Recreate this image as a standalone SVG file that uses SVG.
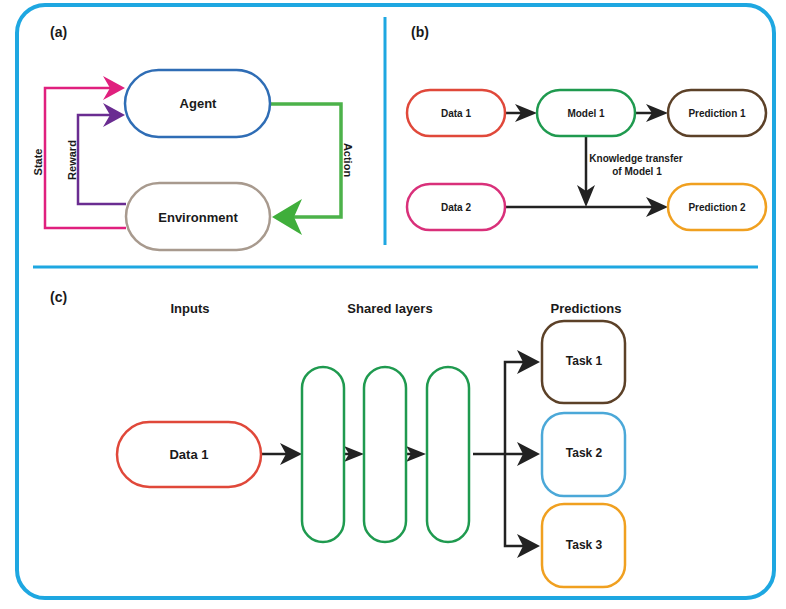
<svg xmlns="http://www.w3.org/2000/svg" width="786" height="609" viewBox="0 0 786 609">
<style>
text{font-family:"Liberation Sans",Arial,sans-serif;font-weight:bold;fill:#1a1a1a}
.frame{fill:none;stroke:#1ea7e1;stroke-width:4}
.div{stroke:#1ea7e1;stroke-width:3;fill:none}
.node{fill:#fff;stroke-width:2.5}
.ln{fill:none;stroke:#222;stroke-width:2.5}
.hd{fill:#222}
.mid{text-anchor:middle;dominant-baseline:central}
</style>
<rect class="frame" x="17" y="5" width="757" height="593" rx="28"/>
<line class="div" x1="385" y1="17" x2="385" y2="245"/>
<line class="div" x1="33" y1="267" x2="758" y2="267"/>

<text x="50" y="37" font-size="14">(a)</text>
<text x="411" y="37" font-size="14">(b)</text>
<text x="50" y="302" font-size="14">(c)</text>

<g id="connectors">
  <!-- panel a -->
  <path d="M126,228 H45 V88 H112" fill="none" stroke="#e0207e" stroke-width="2.5"/>
  <polygon points="125,88 103,76 110,88 103,100" fill="#e0207e"/>
  <path d="M126,204 H78 V115 H112" fill="none" stroke="#6a2c91" stroke-width="2.5"/>
  <polygon points="125,115 103,103 110,115 103,127" fill="#6a2c91"/>
  <path d="M270,104 H341 V217 H292" fill="none" stroke="#4cb24a" stroke-width="3.5"/>
  <polygon points="272,217 302,199 294,217 302,235" fill="#3fae3b"/>
  <!-- panel b -->
  <line class="ln" x1="505" y1="113" x2="522" y2="113"/>
  <polygon class="hd" points="537,113 515,104 521,113 515,122"/>
  <line class="ln" x1="635" y1="113" x2="652" y2="113"/>
  <polygon class="hd" points="668,113 646,104 652,113 646,122"/>
  <line class="ln" x1="586" y1="136" x2="586" y2="192"/>
  <polygon class="hd" points="586,207 577,185 586,191 595,185"/>
  <line class="ln" x1="505" y1="207" x2="652" y2="207"/>
  <polygon class="hd" points="668,207 646,197 652,207 646,217"/>
  <!-- panel c -->
  <line class="ln" x1="261" y1="454" x2="287" y2="454"/>
  <polygon class="hd" points="302,454 280,443 286,454 280,465"/>
  <line class="ln" x1="344" y1="454" x2="350" y2="454"/>
  <polygon class="hd" points="364,454 344,446 349,454 344,462"/>
  <line class="ln" x1="406" y1="454" x2="412" y2="454"/>
  <polygon class="hd" points="426,454 406,446 411,454 406,462"/>
  <line class="ln" x1="473" y1="454" x2="524" y2="454"/>
  <path class="ln" d="M524,362 H505 V546 H524"/>
  <polygon class="hd" points="540,362 517,350 523,362 517,374"/>
  <polygon class="hd" points="540,454 517,442 523,454 517,466"/>
  <polygon class="hd" points="540,546 517,534 523,546 517,558"/>
</g>

<text class="mid" font-size="11" transform="translate(38,162) rotate(-90)">State</text>
<text class="mid" font-size="11" transform="translate(72,160) rotate(-90)">Reward</text>
<text class="mid" font-size="11" transform="translate(348,160) rotate(90)">Action</text>
<text x="636" y="162" font-size="10" text-anchor="middle">Knowledge transfer</text>
<text x="637" y="175" font-size="10" text-anchor="middle">of Model 1</text>

<g id="agent"><rect class="node" x="125" y="70" width="145" height="67" rx="33.5" stroke="#2f6db5"/><text class="mid" x="198" y="103" font-size="13">Agent</text></g>
<g id="environment"><rect class="node" x="126" y="183" width="144" height="67" rx="33.5" stroke="#a89a8e"/><text class="mid" x="198" y="217" font-size="13">Environment</text></g>

<g id="b-data1"><rect class="node" x="407" y="90" width="98" height="46" rx="23" stroke="#e0483a"/><text class="mid" x="456" y="113" font-size="10">Data 1</text></g>
<g id="b-model1"><rect class="node" x="537" y="90" width="98" height="46" rx="23" stroke="#1f9a4f"/><text class="mid" x="586" y="113" font-size="10">Model 1</text></g>
<g id="b-pred1"><rect class="node" x="668" y="90" width="98" height="46" rx="23" stroke="#5c4128"/><text class="mid" x="717" y="113" font-size="10">Prediction 1</text></g>
<g id="b-data2"><rect class="node" x="407" y="184" width="98" height="46" rx="23" stroke="#d9307a"/><text class="mid" x="456" y="207" font-size="10">Data 2</text></g>
<g id="b-pred2"><rect class="node" x="668" y="184" width="98" height="46" rx="23" stroke="#f0a020"/><text class="mid" x="717" y="207" font-size="10">Prediction 2</text></g>

<text class="mid" x="190" y="308" font-size="13">Inputs</text>
<text class="mid" x="390" y="308" font-size="13">Shared layers</text>
<text class="mid" x="586" y="308" font-size="13">Predictions</text>

<g id="c-data1"><rect class="node" x="117" y="422" width="144" height="65" rx="32.5" stroke="#e0483a"/><text class="mid" x="189" y="454" font-size="13">Data 1</text></g>
<g id="layer1"><rect class="node" x="302" y="367" width="42" height="175" rx="21" stroke="#1f9a4f"/></g>
<g id="layer2"><rect class="node" x="364" y="367" width="42" height="175" rx="21" stroke="#1f9a4f"/></g>
<g id="layer3"><rect class="node" x="427" y="367" width="42" height="175" rx="21" stroke="#1f9a4f"/></g>
<g id="task1"><rect class="node" x="542" y="321" width="83" height="82" rx="22" stroke="#5c4128"/><text class="mid" x="584" y="361" font-size="12">Task 1</text></g>
<g id="task2"><rect class="node" x="542" y="413" width="83" height="83" rx="22" stroke="#4ba8d8"/><text class="mid" x="584" y="453" font-size="12">Task 2</text></g>
<g id="task3"><rect class="node" x="542" y="504" width="83" height="83" rx="22" stroke="#f0a020"/><text class="mid" x="584" y="545" font-size="12">Task 3</text></g>
</svg>
